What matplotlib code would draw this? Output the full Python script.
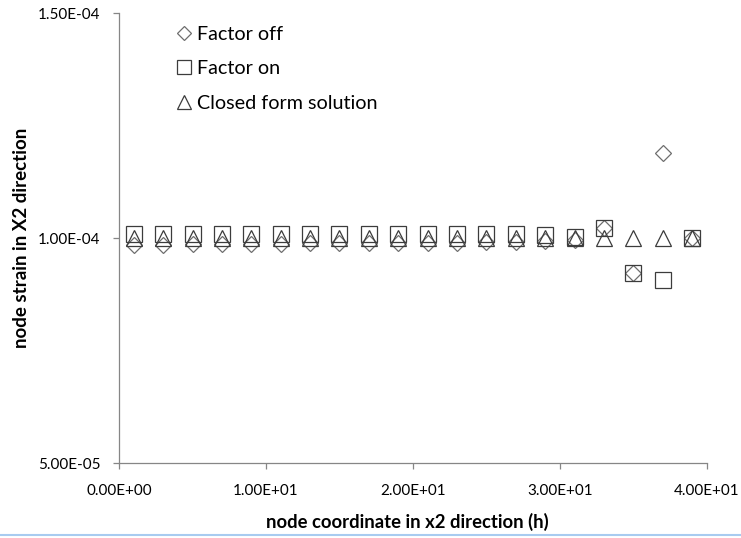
import matplotlib.pyplot as plt
from matplotlib.lines import Line2D
from matplotlib.ticker import FuncFormatter
import numpy as np

plt.rcParams['font.family'] = ['Lato', 'DejaVu Sans']

# node positions along x2 (h)
x2 = [1, 3, 5, 7, 9, 11, 13, 15, 17, 19, 21, 23, 25, 27, 29, 31, 33, 35, 37, 39]

# node strain values (x1e-4)
factor_off = [0.985, 0.985, 0.986, 0.986, 0.987, 0.987, 0.988, 0.988, 0.989, 0.989,
              0.990, 0.990, 0.991, 0.991, 0.993, 0.996, 1.023, 0.923, 1.188, 1.000]
factor_on = [1.008, 1.008, 1.008, 1.008, 1.008, 1.008, 1.008, 1.008, 1.008, 1.008,
             1.008, 1.008, 1.008, 1.008, 1.007, 1.002, 1.023, 0.923, 0.907, 1.000]
closed_form = [1.0] * 20

x2 = np.array(x2)
factor_off = np.array(factor_off) * 1e-4
factor_on = np.array(factor_on) * 1e-4
closed_form = np.array(closed_form) * 1e-4

fig = plt.figure(figsize=(7.41, 5.38), dpi=100)
ax = fig.add_axes([0.1606, 0.1394, 0.7935, 0.8364])

ax.plot(x2, factor_off, linestyle="none", marker="D", markersize=8.5,
        markerfacecolor="none", markeredgecolor="#6e6e6e", markeredgewidth=0.9,
        label="Factor off")
ax.plot(x2, factor_on, linestyle="none", marker="s", markersize=12,
        markerfacecolor="none", markeredgecolor="#3c3c3c", markeredgewidth=0.9,
        label="Factor on")
ax.plot(x2, closed_form, linestyle="none", marker="^", markersize=12,
        markerfacecolor="none", markeredgecolor="#3c3c3c", markeredgewidth=0.9,
        label="Closed form solution")

ax.set_xlim(0, 40)
ax.set_ylim(5e-5, 1.5e-4)
ax.set_xticks([0, 10, 20, 30, 40])
ax.set_yticks([5e-5, 1e-4, 1.5e-4])

sci = FuncFormatter(lambda v, pos: "%.2E" % v)
ax.xaxis.set_major_formatter(sci)
ax.yaxis.set_major_formatter(sci)

for side in ["top", "right"]:
    ax.spines[side].set_visible(False)
for side in ["left", "bottom"]:
    ax.spines[side].set_color("#868686")
    ax.spines[side].set_linewidth(0.9)

ax.tick_params(axis="both", direction="out", length=4, width=0.9, color="#868686",
               labelsize=11, labelcolor="black")
ax.tick_params(axis="x", pad=11)
ax.tick_params(axis="y", pad=9.5)

ax.set_xlabel("node coordinate in x2 direction (h)", fontsize=13.3, fontweight="bold")
ax.set_ylabel("node strain in X2 direction", fontsize=13.5, fontweight="bold")
ax.xaxis.set_label_coords(0.49, -0.111)
ax.yaxis.set_label_coords(-0.152, 0.5)

ax.legend(loc="upper left", bbox_to_anchor=(0.07, 1.011), frameon=False, fontsize=14.2,
          markerscale=0.85, handlelength=0.6, handletextpad=0.35, labelspacing=0.88)

# thin blue rule along the bottom edge
fig.add_artist(Line2D([0, 1], [0.006, 0.006], transform=fig.transFigure,
                      color="#a8cbf0", linewidth=1.5))

fig.savefig("out.png", dpi=100)
